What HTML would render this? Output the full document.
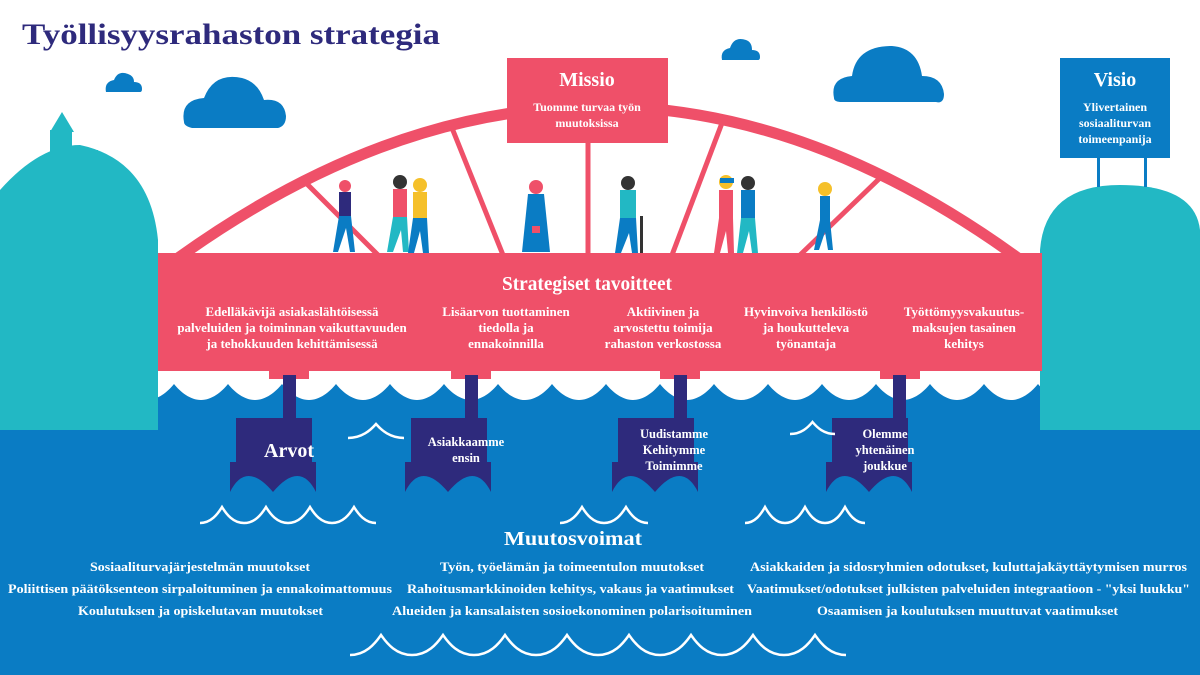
<!DOCTYPE html>
<html><head><meta charset="utf-8"><style>
html,body{margin:0;padding:0;background:#fff;}
svg{display:block;}
text{font-family:"Liberation Serif","DejaVu Serif",serif;font-weight:bold;}
</style></head><body>
<svg width="1200" height="675" viewBox="0 0 1200 675" xmlns="http://www.w3.org/2000/svg">
<rect width="1200" height="675" fill="#fff"/>
<text x="22" y="44" font-size="30" fill="#2e2a7c" textLength="418" lengthAdjust="spacingAndGlyphs">Työllisyysrahaston strategia</text>

<g fill="#0a7cc4">
<path d="M106 92 q-2 -10 8 -12 q4 -10 14 -6 q6 2 6 8 q8 0 8 7 q0 3 -2 3 z"/>
<path d="M184 122 q-4 -22 20 -24 q10 -26 38 -20 q16 4 22 22 q20 -2 22 16 q0 10 -8 12 h-86 q-8 -2 -8 -6 z"/>
<path d="M722 60 q-2 -10 8 -12 q4 -12 16 -8 q6 2 6 10 q8 0 8 7 q0 3 -2 3 z"/>
<path d="M834 98 q-4 -20 18 -22 q4 -30 40 -30 q26 2 30 30 q20 0 22 18 q0 10 -8 8 h-94 q-8 0 -8 -4 z"/>
</g>

<rect x="0" y="383" width="1200" height="292" fill="#0a7cc4"/>
<path id="whitewave" fill="#fff" d=""/>

<g fill="#22b8c4">
<path d="M0 190 Q40 145 80 145 Q150 160 158 240 V430 H0 Z"/>
<rect x="50" y="130" width="22" height="40"/>
<path d="M50 132 L62 112 L74 132 Z"/>
<rect x="76" y="150" width="22" height="20"/>
<path d="M1040 250 Q1045 185 1120 185 Q1195 185 1200 230 V430 H1040 Z"/>
</g>

<rect x="1097" y="155" width="3" height="32" fill="#0a7cc4"/>
<rect x="1144" y="155" width="3" height="32" fill="#0a7cc4"/>
<rect x="1060" y="58" width="110" height="100" fill="#0a7cc4"/>
<text x="1115" y="86" font-size="20" fill="#fff" text-anchor="middle">Visio</text>
<text font-size="12" fill="#fff" text-anchor="middle"><tspan x="1115" y="111">Ylivertainen</tspan><tspan x="1115" y="127">sosiaaliturvan</tspan><tspan x="1115" y="143">toimeenpanija</tspan></text>

<g stroke="#ef5069" fill="none">
<path d="M178 258 Q600 -45 1018 258" stroke-width="11"/>
<g stroke-width="5">
<line x1="305" y1="182" x2="378" y2="255"/>
<line x1="452" y1="128" x2="503" y2="255"/>
<line x1="588" y1="140" x2="588" y2="255"/>
<line x1="722" y1="123" x2="672" y2="255"/>
<line x1="880" y1="178" x2="800" y2="255"/>
</g>
</g>

<g>
<g transform="translate(335,180)"><circle cx="10" cy="6" r="6" fill="#ef5069"/><rect x="4" y="12" width="12" height="24" fill="#2e2a7c"/><path d="M4 36 h12 l4 36 h-5 l-4-24 l-8 24 h-5 z" fill="#0a7cc4"/></g>
<g transform="translate(390,175)"><circle cx="10" cy="7" r="7" fill="#333"/><rect x="3" y="14" width="14" height="28" fill="#ef5069"/><path d="M3 42 h14 l2 35 h-6 l-2-22 l-8 22 h-6 z" fill="#22b8c4"/></g>
<g transform="translate(410,178)"><circle cx="10" cy="7" r="7" fill="#f5c02a"/><rect x="3" y="14" width="14" height="26" fill="#f5c02a"/><path d="M3 40 h14 l2 35 h-6 l-3-22 l-6 22 h-6 z" fill="#0a7cc4"/></g>
<g transform="translate(522,180)"><circle cx="14" cy="7" r="7" fill="#ef5069"/><path d="M6 14 h16 l6 58 h-28 z" fill="#0a7cc4"/><rect x="10" y="46" width="8" height="7" fill="#ef5069"/></g>
<g transform="translate(610,176)"><circle cx="18" cy="7" r="7" fill="#333"/><rect x="10" y="14" width="16" height="28" fill="#22b8c4"/><path d="M10 42 h16 l2 35 h-6 l-3-20 l-8 20 h-6 z" fill="#0a7cc4"/><rect x="30" y="40" width="3" height="37" fill="#333"/></g>
<g transform="translate(716,174)"><circle cx="10" cy="8" r="7" fill="#f5c02a"/><rect x="4" y="4" width="14" height="5" fill="#0a7cc4"/><rect x="3" y="16" width="14" height="28" fill="#ef5069"/><path d="M3 44 h14 l1 35 h-6 l-2-22 l-6 22 h-6 z" fill="#ef5069"/></g>
<g transform="translate(738,176)"><circle cx="10" cy="7" r="7" fill="#333"/><rect x="3" y="14" width="14" height="28" fill="#0a7cc4"/><path d="M3 42 h14 l3 35 h-6 l-3-22 l-6 22 h-6 z" fill="#22b8c4"/></g>
<g transform="translate(815,182)"><circle cx="10" cy="7" r="7" fill="#f5c02a"/><rect x="5" y="14" width="10" height="24" fill="#0a7cc4"/><path d="M5 38 h10 l3 30 h-5 l-3-18 l-6 18 h-5 z" fill="#0a7cc4"/></g>
</g>

<rect x="507" y="58" width="161" height="85" fill="#ef5069"/>
<text x="587" y="86" font-size="20" fill="#fff" text-anchor="middle">Missio</text>
<text font-size="12" fill="#fff" text-anchor="middle"><tspan x="587" y="111">Tuomme turvaa työn</tspan><tspan x="587" y="127">muutoksissa</tspan></text>

<rect x="158" y="253" width="884" height="118" fill="#ef5069"/>
<text x="587" y="290" font-size="20" fill="#fff" text-anchor="middle" textLength="170" lengthAdjust="spacingAndGlyphs">Strategiset tavoitteet</text>
<g font-size="13" fill="#fff" text-anchor="middle">
<text><tspan x="292" y="316">Edelläkävijä asiakaslähtöisessä</tspan><tspan x="292" y="332">palveluiden ja toiminnan vaikuttavuuden</tspan><tspan x="292" y="348">ja tehokkuuden kehittämisessä</tspan></text>
<text><tspan x="506" y="316">Lisäarvon tuottaminen</tspan><tspan x="506" y="332">tiedolla ja</tspan><tspan x="506" y="348">ennakoinnilla</tspan></text>
<text><tspan x="663" y="316">Aktiivinen ja</tspan><tspan x="663" y="332">arvostettu toimija</tspan><tspan x="663" y="348">rahaston verkostossa</tspan></text>
<text><tspan x="806" y="316">Hyvinvoiva henkilöstö</tspan><tspan x="806" y="332">ja houkutteleva</tspan><tspan x="806" y="348">työnantaja</tspan></text>
<text><tspan x="964" y="316">Työttömyysvakuutus-</tspan><tspan x="964" y="332">maksujen tasainen</tspan><tspan x="964" y="348">kehitys</tspan></text>
</g>

<g fill="#ef5069">
<rect x="269" y="369" width="40" height="10"/>
<rect x="451" y="369" width="40" height="10"/>
<rect x="660" y="369" width="40" height="10"/>
<rect x="880" y="369" width="40" height="10"/>
</g>
<g fill="#2e2a7c">
<rect x="283" y="375" width="13" height="46"/>
<rect x="465" y="375" width="13" height="46"/>
<rect x="674" y="375" width="13" height="46"/>
<rect x="893" y="375" width="13" height="46"/>
<g id="boat"><path d="M236 418 H312 V462 H316 V492 Q300 460 273 492 Q246 460 230 492 V462 H236 Z"/></g>
<use href="#boat" transform="translate(175,0)"/>
<use href="#boat" transform="translate(382,0)"/>
<use href="#boat" transform="translate(596,0)"/>
</g>
<g fill="#fff" text-anchor="middle">
<text x="289" y="457" font-size="20">Arvot</text>
<text font-size="12.5"><tspan x="466" y="446">Asiakkaamme</tspan><tspan x="466" y="462">ensin</tspan></text>
<text font-size="12.5"><tspan x="674" y="438">Uudistamme</tspan><tspan x="674" y="454">Kehitymme</tspan><tspan x="674" y="470">Toimimme</tspan></text>
<text font-size="12.5"><tspan x="885" y="438">Olemme</tspan><tspan x="885" y="454">yhtenäinen</tspan><tspan x="885" y="470">joukkue</tspan></text>
</g>

<g id="wl" stroke="#fff" stroke-width="2.5" fill="none" stroke-linejoin="miter"></g>

<text x="573" y="545" font-size="20" fill="#fff" text-anchor="middle" textLength="138" lengthAdjust="spacingAndGlyphs">Muutosvoimat</text>
<g font-size="13" fill="#fff">
<text x="90" y="571" textLength="220" lengthAdjust="spacingAndGlyphs">Sosiaaliturvajärjestelmän muutokset</text>
<text x="440" y="571" textLength="264" lengthAdjust="spacingAndGlyphs">Työn, työelämän ja toimeentulon muutokset</text>
<text x="750" y="571" textLength="437" lengthAdjust="spacingAndGlyphs">Asiakkaiden ja sidosryhmien odotukset, kuluttajakäyttäytymisen murros</text>
<text x="8" y="593" textLength="384" lengthAdjust="spacingAndGlyphs">Poliittisen päätöksenteon sirpaloituminen ja ennakoimattomuus</text>
<text x="407" y="593" textLength="327" lengthAdjust="spacingAndGlyphs">Rahoitusmarkkinoiden kehitys, vakaus ja vaatimukset</text>
<text x="747" y="593" textLength="443" lengthAdjust="spacingAndGlyphs">Vaatimukset/odotukset julkisten palveluiden integraatioon - "yksi luukku"</text>
<text x="78" y="615" textLength="245" lengthAdjust="spacingAndGlyphs">Koulutuksen ja opiskelutavan muutokset</text>
<text x="392" y="615" textLength="360" lengthAdjust="spacingAndGlyphs">Alueiden ja kansalaisten sosioekonominen polarisoituminen</text>
<text x="817" y="615" textLength="301" lengthAdjust="spacingAndGlyphs">Osaamisen ja koulutuksen muuttuvat vaatimukset</text>
</g>
</svg>
<script>
(function(){
  var p=54;
  var s="M0 368 L1200 368 L1200 384";
  for(var xx=1200; xx>0; xx-=p){
    var a=xx, b=xx-p/2, c=xx-p;
    s+=" C"+(a-p*0.12)+" 392 "+(a-p*0.3)+" 400 "+b+" 400 C"+(c+p*0.3)+" 400 "+(c+p*0.12)+" 392 "+c+" 384";
  }
  s+=" L0 368 Z";
  document.getElementById('whitewave').setAttribute('d',s);
  function wave(x0,y,n,per,h){
    var s="M"+x0+" "+y;
    for(var i=0;i<n;i++){
      var x=x0+i*per;
      s+=" C"+(x+per*0.25)+" "+y+" "+(x+per*0.4)+" "+(y-h*0.55)+" "+(x+per/2)+" "+(y-h)+
         " C"+(x+per*0.6)+" "+(y-h*0.55)+" "+(x+per*0.75)+" "+y+" "+(x+per)+" "+y;
    }
    return s;
  }
  var g=document.getElementById('wl');
  var list=[[200,523,4,44,16],[560,523,2,44,16],[745,523,3,40,16],[350,655,8,62,20],[348,438,1,56,14],[790,434,1,45,12]];
  list.forEach(function(w){
    var el=document.createElementNS('http://www.w3.org/2000/svg','path');
    el.setAttribute('d',wave.apply(null,w));
    g.appendChild(el);
  });
})();
</script>
</body></html>
